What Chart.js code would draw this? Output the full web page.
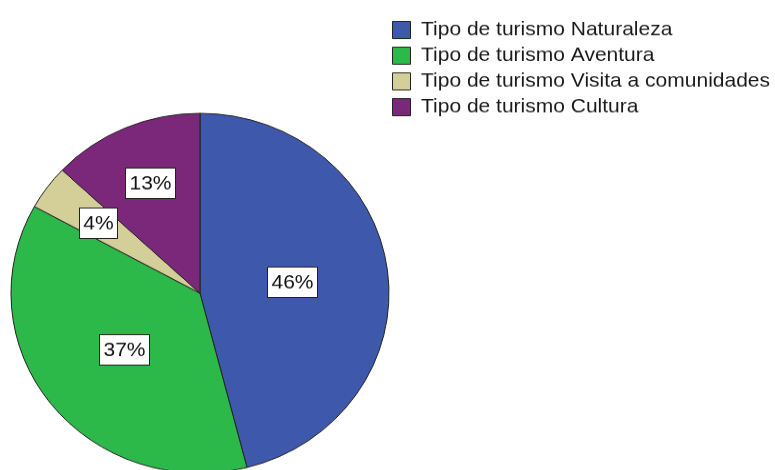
<!DOCTYPE html>
<html>
<head>
<meta charset="utf-8">
<script src="https://cdn.jsdelivr.net/npm/chart.js@4.4.1/dist/chart.umd.min.js"></script>
<style>
  html, body { margin: 0; padding: 0; background: #fff; overflow: hidden; }
  /* the original export is slightly squashed vertically, so the pie is an ellipse */
  #wrap { position: relative; width: 775px; height: 600px; transform: scaleY(0.952); transform-origin: 0 0; }
</style>
</head>
<body>
<div id="wrap"><canvas id="myChart"></canvas></div>
<script>
var categories = [
    'Tipo de turismo Naturaleza',
    'Tipo de turismo Aventura',
    'Tipo de turismo Visita a comunidades',
    'Tipo de turismo Cultura'
];
var percentages = [46, 37, 4, 13];
var sliceColors = ['#3e58ab', '#2db84a', '#d4ce99', '#7b287b'];

var fontFamily = '"Liberation Sans", Arial, sans-serif';

// white boxed percentages inside the slices
var percentLabels = {
    id: 'percentLabels',
    afterDatasetsDraw: function(chart, args, opts) {
        var ctx = chart.ctx;
        var meta = chart.getDatasetMeta(0);
        ctx.save();
        ctx.font = opts.size + 'px ' + fontFamily;
        ctx.textAlign = 'center';
        ctx.textBaseline = 'middle';
        meta.data.forEach(function(arc, i) {
            var mid = (arc.startAngle + arc.endAngle) / 2;
            var r = arc.outerRadius * opts.radius[i];
            var x = arc.x + Math.cos(mid) * r;
            var y = arc.y + Math.sin(mid) * r;
            var text = percentages[i] + '%';
            var w = Math.round(ctx.measureText(text).width + 8);
            var h = 32;
            var left = Math.round(x - w / 2) + 0.5;
            var top = Math.round(y - h / 2) + 0.5;
            ctx.fillStyle = '#fff';
            ctx.fillRect(left, top, w, h);
            ctx.strokeStyle = '#222';
            ctx.lineWidth = 1;
            ctx.strokeRect(left, top, w, h);
            ctx.fillStyle = '#111';
            ctx.fillText(text, left + w / 2, top + h / 2 + 1);
        });
        ctx.restore();
    }
};

var ctx = document.getElementById('myChart');
var myChart = new Chart(ctx, {
    type: 'pie',
    data: {
        labels: categories,
        datasets: [{
            data: percentages,
            backgroundColor: sliceColors,
            borderColor: '#222',
            borderWidth: 1,
            hoverOffset: 0
        }]
    },
    options: {
        responsive: true,
        maintainAspectRatio: false,
        animation: false,
        layout: {
            padding: { left: 10.5, top: 18, right: 0, bottom: 2 }
        },
        plugins: {
            tooltip: { enabled: false },
            legend: {
                position: 'right',
                align: 'start',
                maxWidth: 385.5,
                labels: {
                    boxWidth: 18,
                    boxHeight: 18,
                    padding: 3,
                    color: '#1a1a1a',
                    font: { family: fontFamily, size: 21, lineHeight: 24 / 21 },
                    generateLabels: function(chart) {
                        var items = Chart.overrides.doughnut.plugins.legend.labels.generateLabels(chart);
                        // one-line arrays so the row height follows the font lineHeight
                        items.forEach(function(item) { item.text = [item.text]; });
                        return items;
                    }
                }
            },
            percentLabels: {
                size: 21,
                radius: [0.49, 0.51, 0.67, 0.67]
            }
        }
    },
    plugins: [percentLabels]
});
</script>
</body>
</html>
